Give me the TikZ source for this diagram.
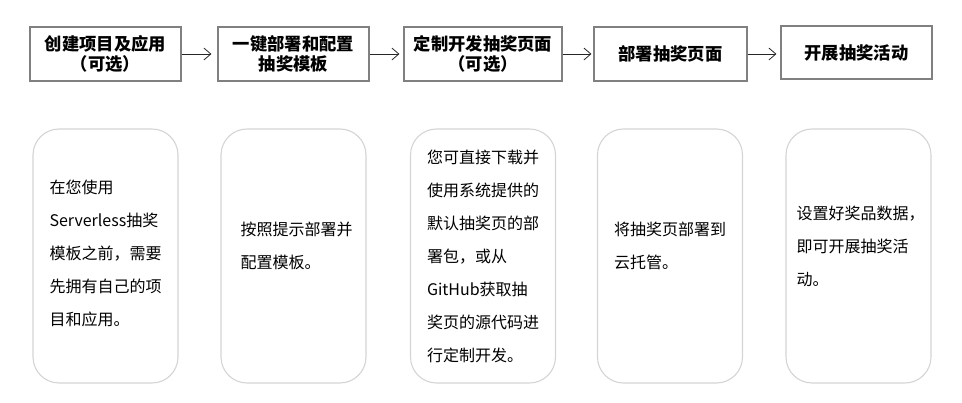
\documentclass[tikz,border=0pt]{standalone}
\usepackage{fontspec}
\setmainfont{Noto Sans CJK SC}
\usetikzlibrary{arrows.meta}
\definecolor{stepgray}{HTML}{808080}
\definecolor{cardgray}{HTML}{D4D4D4}
\tikzset{
  stepbox/.style={draw=stepgray, line width=1.1pt, minimum height=54pt, inner sep=0pt, align=center,
    font=\fontsize{17.3}{20}\selectfont\bfseries},
  card/.style={draw=cardgray, line width=1.1pt, rounded corners=26pt, minimum width=145pt, minimum height=254pt, inner sep=0pt},
  cardtext/.style={align=left, inner sep=0pt, font=\fontsize{16}{33}\selectfont},
  flow/.style={draw=black!85, line width=0.8pt, -{Straight Barb[length=7pt,width=12pt,line width=0.8pt]}},
}
\begin{document}
\begin{tikzpicture}[x=1pt,y=-1pt]
\useasboundingbox (0,0) rectangle (962,403);
% top steps
\node[stepbox, minimum width=151pt] (s1) at (105.5,54) {创建项目及应用\\（可选）};
\node[stepbox, minimum width=151pt] (s2) at (293.5,54) {一键部署和配置\\抽奖模板};
\node[stepbox, minimum width=158pt] (s3) at (483,54) {定制开发抽奖页面\\（可选）};
\node[stepbox, minimum width=153pt] (s4) at (670.5,54) {部署抽奖页面};
\node[stepbox, minimum width=151pt, minimum height=53pt] (s5) at (856.5,52.5) {开展抽奖活动};
\draw[flow, shorten >=6pt] (s1.east) -- (s1.east -| s2.west);
\draw[flow, shorten >=4pt] (s2.east) -- (s2.east -| s3.west);
\draw[flow, shorten >=2pt] (s3.east) -- (s3.east -| s4.west);
\draw[flow, shorten >=4pt] (s4.east) -- (s4.east -| s5.west);
% cards
\node[card] (c1) at (105.5,256) {};
\node[card] (c2) at (293.5,256) {};
\node[card] (c3) at (483,256) {};
\node[card] (c4) at (670,256) {};
\node[card] (c5) at (858.5,256) {};
\node[cardtext, yshift=3pt] (t1) at (c1.center) {在您使用\\Serverless抽奖\\模板之前，需要\\先拥有自己的项\\目和应用。};
\node[cardtext, yshift=10pt, xshift=3pt] (t2) at (c2.center) {按照提示部署并\\配置模板。};
\node[cardtext] (t3) at (c3.center) {您可直接下载并\\使用系统提供的\\默认抽奖页的部\\署包，或从\\GitHub获取抽\\奖页的源代码进\\行定制开发。};
\node[cardtext, yshift=10pt] (t4) at (c4.center) {将抽奖页部署到\\云托管。};
\node[cardtext, yshift=10pt, xshift=2pt] (t5) at (c5.center) {设置好奖品数据，\\即可开展抽奖活\\动。};
\end{tikzpicture}
\end{document}
